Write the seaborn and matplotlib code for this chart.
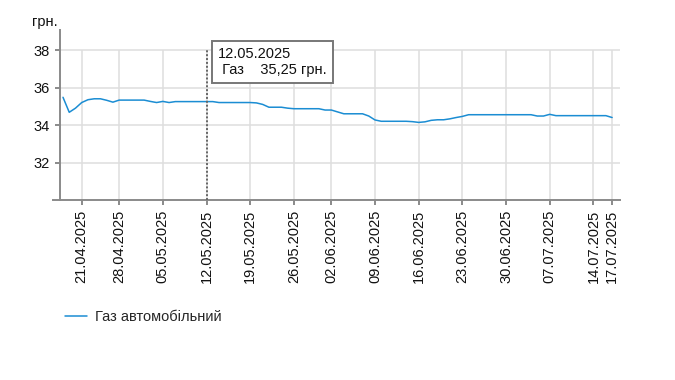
import pandas as pd
import seaborn as sns
import matplotlib.pyplot as plt

# price records, one per date (27.04 and 01.06 have no record)
missing_dates = ['27.04.2025', '01.06.2025']

april_prices = [35.48, 34.68, 34.90, 35.20, 35.35, 35.40, 35.40, 35.32, 35.22,
                35.33, 35.33, 35.33]
may_prices = [35.33, 35.33, 35.26, 35.20, 35.26, 35.20, 35.25, 35.25, 35.25,
              35.25, 35.25, 35.25, 35.25, 35.20, 35.20, 35.20, 35.20, 35.20,
              35.20, 35.18, 35.10, 34.95, 34.95, 34.95, 34.90, 34.87, 34.87,
              34.87, 34.87, 34.87, 34.80]
june_prices = [34.80, 34.70, 34.60, 34.60, 34.60, 34.60, 34.48, 34.27, 34.20,
               34.20, 34.20, 34.20, 34.20, 34.18, 34.14, 34.17, 34.25, 34.28,
               34.28, 34.33, 34.40, 34.46, 34.55, 34.55, 34.55, 34.55, 34.55,
               34.55, 34.55]
july_prices = [34.55, 34.55, 34.55, 34.55, 34.48, 34.48, 34.57, 34.50, 34.50,
               34.50, 34.50, 34.50, 34.50, 34.50, 34.50, 34.50, 34.40]

tick_dates = ['21.04.2025', '28.04.2025', '05.05.2025', '12.05.2025',
              '19.05.2025', '26.05.2025', '02.06.2025', '09.06.2025',
              '16.06.2025', '23.06.2025', '30.06.2025', '07.07.2025',
              '14.07.2025', '17.07.2025']
y_ticks = [32, 34, 36, 38]

series_name = 'Газ автомобільний'
short_name = 'Газ'
unit = 'грн.'
selected_date = '12.05.2025'

# build the table
all_days = pd.date_range('2025-04-18', '2025-07-17').strftime('%d.%m.%Y').tolist()
dates = [d for d in all_days if d not in missing_dates]
prices = april_prices + may_prices + june_prices + july_prices
df = pd.DataFrame({'date': dates, 'price': prices})
df['pos'] = range(len(df))

sns.set_style('white')
plt.rcParams['font.family'] = ['Liberation Sans', 'DejaVu Sans']

line_color = '#1b8dd3'
grid_color = '#dedede'
axis_color = '#8a8a8a'

fig = plt.figure(figsize=(6.75, 3.8), dpi=100)
ax = fig.add_axes([60 / 675, 1 - 200 / 380, 560 / 675, 170 / 380])

sns.lineplot(data=df, x='pos', y='price', ax=ax, color=line_color,
             linewidth=1.1, label=series_name, zorder=3)

ax.set_xlim(-0.48, 89.26)
ax.set_ylim(30, 39.07)

tick_pos = [dates.index(d) for d in tick_dates]
ax.set_xticks(tick_pos)
ax.set_xticklabels(tick_dates, rotation=90)
ax.set_yticks(y_ticks)
ax.set_xlabel('')
ax.set_ylabel('')

# grid: horizontal lines full width, vertical ones only up to 38
ax.grid(axis='y', color=grid_color, linewidth=1.1)
ax.vlines(tick_pos, 30, 38, color=grid_color, linewidth=1.1, zorder=0.5)
ax.set_axisbelow(True)

for side in ['top', 'right']:
    ax.spines[side].set_visible(False)
for side in ['left', 'bottom']:
    ax.spines[side].set_color(axis_color)
    ax.spines[side].set_linewidth(1.4)
ax.spines['bottom'].set_bounds(-1.6, 89.26)

ax.tick_params(axis='both', length=3.6, width=1.4, color=axis_color,
               labelsize=10.5, labelcolor='#111111', pad=3.6)
ax.tick_params(axis='x', bottom=True)
ax.tick_params(axis='y', left=True)

# unit label above the y axis
fig.text(31.7 / 675, 1 - 26 / 380, unit, fontsize=10.5, color='#111111',
         va='baseline', ha='left')

# hover crosshair and tooltip
sel = df[df['date'] == selected_date].iloc[0]
ax.vlines(sel['pos'], 30, 38, color='#666666', linewidth=1.4,
          linestyles=(0, (1, 1)), zorder=4)
price_txt = f"{sel['price']:.2f}".replace('.', ',')
tip = f"{selected_date}\n {short_name}    {price_txt} {unit}"
ax.annotate(tip, xy=(sel['pos'], 38), xytext=(8.5, 2.5),
            textcoords='offset points', ha='left', va='top', fontsize=10.5,
            color='#111111', linespacing=1.2, zorder=5,
            bbox=dict(boxstyle='square,pad=0.4', fc='white', ec='#777777',
                      lw=1.4))

# legend below the chart
ax.legend(loc='center left', bbox_to_anchor=(65 / 675, 1 - 317 / 380),
          bbox_transform=fig.transFigure, frameon=False, borderpad=0,
          borderaxespad=0, handlelength=1.5, handletextpad=0.55,
          fontsize=10.5)

fig.savefig('out.png', dpi=100)
